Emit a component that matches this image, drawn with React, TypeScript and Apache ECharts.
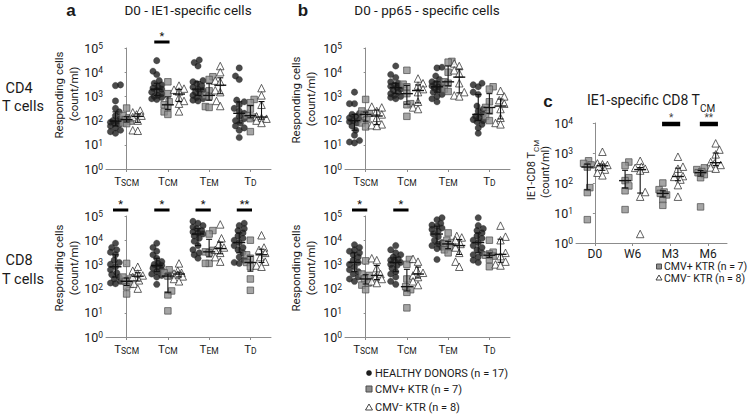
import React, { useEffect, useRef } from "react";
import * as echarts from "echarts";

const FONT = "Roboto, 'Noto Sans', sans-serif";

const cellTypes = ["TSCM", "TCM", "TEM", "TD"];
const timepoints = ["D0", "W6", "M3", "M6"];
const groupNames = ["HEALTHY DONORS (n = 17)", "CMV+ KTR (n = 7)", "CMV\u207B KTR (n = 8)"];

// ---- Panel a, CD4 (IE1) : [TSCM, TCM, TEM, TD]
const ie1Cd4Healthy = [
  [3000, 2800, 650, 320, 230, 160, 120, 100, 95, 85, 80, 70, 60, 50, 40, 35, 30],
  [30000, 11000, 8000, 4500, 3500, 3000, 2500, 2200, 2000, 1800, 1500, 1300, 1100, 1000, 900, 800, 750],
  [32000, 25000, 18000, 4500, 4000, 3400, 2800, 2400, 2000, 1800, 1500, 1300, 1100, 900, 800, 700, 650],
  [15000, 7000, 5000, 700, 600, 450, 320, 250, 200, 150, 120, 100, 80, 60, 50, 40, 20],
];
const ie1Cd4Pos = [
  [330, 160, 130, 110, 95, 80, 75],
  [4000, 1300, 600, 450, 350, 230, 180],
  [6500, 5000, 1700, 1100, 1000, 380, 350],
  [750, 550, 300, 160, 140, 120, 35],
];
const ie1Cd4Neg = [
  [260, 220, 180, 160, 140, 100, 40, 38],
  [2800, 2100, 1900, 1600, 900, 650, 500, 240],
  [18000, 10000, 4500, 4000, 1800, 1500, 650, 400],
  [2200, 1100, 450, 150, 130, 120, 100, 80],
];

// ---- Panel a, CD8 (IE1)
const ie1Cd8Healthy = [
  [7500, 5000, 4000, 3200, 2500, 1500, 1200, 1000, 800, 600, 450, 380, 300, 250, 200, 170, 160],
  [7500, 5000, 3500, 2500, 1800, 1300, 1100, 1000, 900, 800, 700, 600, 500, 400, 350, 300, 150],
  [60000, 50000, 40000, 35000, 30000, 25000, 22000, 20000, 18000, 15000, 12000, 9000, 6000, 4000, 3000, 2500, 1800],
  [50000, 40000, 30000, 25000, 20000, 15000, 12000, 10000, 8000, 6000, 5000, 4000, 3000, 2000, 1500, 1200, 1100],
];
const ie1Cd8Pos = [
  [1100, 300, 250, 200, 150, 120, 60],
  [600, 450, 350, 330, 80, 55, 12],
  [25000, 18000, 3800, 3300, 3000, 1100, 1100],
  [10000, 2500, 1800, 1200, 800, 250, 85],
];
const ie1Cd8Neg = [
  [800, 550, 420, 350, 300, 220, 160, 100],
  [1100, 550, 450, 420, 380, 320, 250, 200],
  [45000, 12000, 7000, 5000, 4000, 3000, 2000, 1300],
  [16000, 5000, 4000, 3000, 2000, 1300, 900, 800],
];

// ---- Panel b, CD4 (pp65)
const pp65Cd4Healthy = [
  [1500, 500, 500, 200, 180, 150, 130, 110, 100, 90, 80, 60, 40, 25, 15, 13, 12],
  [18000, 8000, 6000, 4000, 3500, 3000, 2800, 2600, 2300, 2000, 1800, 1500, 1300, 1100, 1000, 900, 800],
  [16000, 15000, 7000, 5000, 4000, 3500, 3000, 2700, 2500, 2200, 2000, 1800, 1500, 1200, 1000, 800, 600],
  [3500, 3000, 2500, 1500, 1200, 400, 300, 250, 180, 150, 130, 110, 100, 90, 70, 50, 30],
];
const pp65Cd4Pos = [
  [750, 250, 200, 180, 110, 80, 55],
  [12000, 3200, 2500, 1300, 500, 450, 150],
  [28000, 26000, 10000, 4000, 3500, 2000, 1600],
  [2500, 2000, 600, 350, 250, 150, 100],
];
const pp65Cd4Neg = [
  [380, 350, 250, 180, 130, 70, 65, 60],
  [5500, 3500, 2800, 2000, 1500, 600, 350, 300],
  [23000, 18000, 12000, 9000, 3500, 1500, 1100, 1000],
  [1700, 1000, 700, 500, 300, 130, 80, 70],
];

// ---- Panel b, CD8 (pp65)
const pp65Cd8Healthy = [
  [6500, 5000, 4000, 3500, 3000, 2500, 2000, 1500, 1200, 1000, 800, 600, 500, 400, 300, 250, 200],
  [6000, 4000, 3000, 2500, 2000, 1700, 1500, 1400, 1200, 1000, 900, 700, 500, 400, 300, 200, 150],
  [85000, 70000, 50000, 42000, 38000, 32000, 28000, 24000, 18000, 14000, 10000, 8000, 7000, 6000, 5000, 4500, 1600],
  [85000, 40000, 30000, 25000, 20000, 15000, 12000, 10000, 8000, 6000, 5000, 4000, 3000, 2500, 2000, 1500, 1200],
];
const pp65Cd8Pos = [
  [1400, 400, 350, 250, 170, 140, 90],
  [1600, 1000, 250, 120, 90, 70, 16],
  [20000, 10000, 8000, 7000, 5000, 4000, 3000],
  [10000, 3200, 2700, 2400, 2200, 1600, 800],
];
const pp65Cd8Neg = [
  [1800, 1500, 700, 400, 300, 250, 200, 170],
  [1700, 1300, 600, 450, 350, 300, 200, 140],
  [15000, 13000, 10000, 7000, 5000, 3000, 1300, 800],
  [40000, 14000, 10000, 3000, 2200, 1300, 1000, 900],
];

// ---- Panel c, IE1-specific CD8 TCM over time : [D0, W6, M3, M6]
const tcmPos = [
  [550, 450, 400, 340, 70, 48, 6],
  [500, 380, 150, 120, 80, 55, 13],
  [100, 60, 50, 45, 40, 28, 18],
  [320, 280, 240, 220, 190, 150, 16],
];
const tcmNeg = [
  [1100, 450, 420, 400, 350, 280, 220, 180],
  [550, 350, 320, 300, 260, 50, 35, 2],
  [750, 350, 300, 170, 160, 130, 85, 35],
  [2100, 1300, 900, 500, 450, 400, 330, 300],
];

type Sig = { cat: number; mark: string };
const sigIe1Cd4: Sig[] = [{ cat: 1, mark: "*" }];
const sigIe1Cd8: Sig[] = [
  { cat: 0, mark: "*" },
  { cat: 1, mark: "*" },
  { cat: 2, mark: "*" },
  { cat: 3, mark: "**" },
];
const sigPp65Cd4: Sig[] = [];
const sigPp65Cd8: Sig[] = [
  { cat: 0, mark: "*" },
  { cat: 1, mark: "*" },
];
const sigTcm: Sig[] = [
  { cat: 2, mark: "*" },
  { cat: 3, mark: "**" },
];

function quartiles(vals: number[]): [number, number, number] {
  const s = [...vals].sort((a, b) => a - b);
  const q = (p: number) => {
    const pos = (s.length - 1) * p;
    const lo = Math.floor(pos);
    const hi = Math.ceil(pos);
    return s[lo] + (s[hi] - s[lo]) * (pos - lo);
  };
  return [q(0.25), q(0.5), q(0.75)];
}

// deterministic beeswarm offsets (in x data units)
function swarm(vals: number[], pxPerUnit: number, pxPerDecade: number, maxPx: number, minDist: number): number[] {
  const idx = vals.map((_, i) => i).sort((a, b) => vals[a] - vals[b]);
  const placed: [number, number][] = [];
  const off = new Array(vals.length).fill(0);
  idx.forEach((i, k) => {
    const yp = Math.log10(vals[i]) * pxPerDecade;
    const sign = k % 2 === 0 ? 1 : -1;
    const cands: number[] = [0];
    for (let d = 1.25; d <= maxPx + 1e-9; d += 1.25) cands.push(sign * d, -sign * d);
    let best = 0;
    let bestD = -1;
    for (const c of cands) {
      let md = Infinity;
      for (const [px, py] of placed) {
        const dd = Math.hypot(px - c, py - yp);
        if (dd < md) md = dd;
      }
      if (md >= minDist) {
        best = c;
        break;
      }
      if (md > bestD) {
        bestD = md;
        best = c;
      }
    }
    placed.push([best, yp]);
    off[i] = best / pxPerUnit;
  });
  return off;
}

const markerStyles = [
  { symbol: "circle", size: 6.5, itemStyle: { color: "#1e1e1e", borderColor: "#1e1e1e", borderWidth: 0.3 }, maxPx: 5, minDist: 5 },
  { symbol: "rect", size: 6.5, itemStyle: { color: "#8e8e8e", borderColor: "#4d4d4d", borderWidth: 0.9 }, maxPx: 4, minDist: 5.5 },
  { symbol: "triangle", size: 7.5, itemStyle: { color: "#ffffff", borderColor: "#262626", borderWidth: 0.9 }, maxPx: 5, minDist: 6 },
];

type Panel = {
  left: number;
  top: number;
  width: number;
  height: number;
  cats: string[];
  ymax: number;
  data: (number[][] | null)[];
  offs: number[];
  sig: Sig[];
  isC: boolean;
};

const panels: Panel[] = [
  { left: 106, top: 48, width: 165, height: 121, cats: cellTypes, ymax: 1e5, data: [ie1Cd4Healthy, ie1Cd4Pos, ie1Cd4Neg], offs: [-0.27, 0, 0.27], sig: sigIe1Cd4, isC: false },
  { left: 106, top: 216, width: 165, height: 121, cats: cellTypes, ymax: 1e5, data: [ie1Cd8Healthy, ie1Cd8Pos, ie1Cd8Neg], offs: [-0.27, 0, 0.27], sig: sigIe1Cd8, isC: false },
  { left: 345, top: 48, width: 165, height: 121, cats: cellTypes, ymax: 1e5, data: [pp65Cd4Healthy, pp65Cd4Pos, pp65Cd4Neg], offs: [-0.27, 0, 0.27], sig: sigPp65Cd4, isC: false },
  { left: 345, top: 216, width: 165, height: 121, cats: cellTypes, ymax: 1e5, data: [pp65Cd8Healthy, pp65Cd8Pos, pp65Cd8Neg], offs: [-0.27, 0, 0.27], sig: sigPp65Cd8, isC: false },
  { left: 576, top: 123, width: 151, height: 120, cats: timepoints, ymax: 1e4, data: [null, tcmPos, tcmNeg], offs: [0, -0.2, 0.2], sig: sigTcm, isC: true },
];

const AXIS_COLOR = "#8c8c8c";
const TEXT_COLOR = "#1a1a1a";

function buildOption() {
  const grid: any[] = [];
  const xAxis: any[] = [];
  const yAxis: any[] = [];
  const series: any[] = [];

  panels.forEach((p, pi) => {
    grid.push({ left: p.left, top: p.top, width: p.width, height: p.height, containLabel: false });
    xAxis.push({
      type: "category",
      gridIndex: pi,
      data: p.cats,
      boundaryGap: true,
      position: "bottom",
      axisLine: { show: true, lineStyle: { color: AXIS_COLOR, width: 1 } },
      axisTick: { show: true, alignWithLabel: true, length: 3, lineStyle: { color: AXIS_COLOR } },
      splitLine: { show: false },
      axisLabel: p.isC
        ? { interval: 0, margin: 5, fontSize: 12, lineHeight: 12, fontFamily: FONT, color: TEXT_COLOR }
        : {
            interval: 0,
            margin: 6,
            color: TEXT_COLOR,
            formatter: (v: string) => `{t|T}{s|${v.slice(1)}}`,
            rich: {
              t: { fontSize: 11.5, fontFamily: FONT, color: TEXT_COLOR, lineHeight: 12, verticalAlign: "bottom" },
              s: { fontSize: 8.5, fontFamily: FONT, color: TEXT_COLOR, lineHeight: 9, verticalAlign: "bottom" },
            },
          },
    });
    xAxis.push({ type: "value", gridIndex: pi, min: -0.5, max: 3.5, show: false, position: "bottom" });
    yAxis.push({
      type: "log",
      logBase: 10,
      gridIndex: pi,
      min: 1,
      max: p.ymax,
      axisLine: { show: true, lineStyle: { color: AXIS_COLOR, width: 1 } },
      axisTick: { show: true, length: 2, lineStyle: { color: AXIS_COLOR } },
      splitLine: { show: false },
      minorTick: { show: false },
      axisLabel: {
        margin: 3,
        formatter: (v: number) => `{b|10}{s|${Math.round(Math.log10(v))}}`,
        rich: {
          b: { fontSize: 12.5, fontFamily: FONT, color: TEXT_COLOR, lineHeight: 13, verticalAlign: "bottom" },
          s: { fontSize: 8.5, fontFamily: FONT, color: TEXT_COLOR, lineHeight: 9, padding: [0, 0, 7, 0], verticalAlign: "top" },
        },
      },
    });

    const pxPerUnit = p.width / 4;
    const pxPerDecade = p.height / Math.log10(p.ymax);

    p.data.forEach((groupData, gi) => {
      if (!groupData) return;
      const ms = markerStyles[gi];
      const pts: number[][] = [];
      const bars: number[][] = [];
      groupData.forEach((vals, c) => {
        const offs = swarm(vals, pxPerUnit, pxPerDecade, ms.maxPx, ms.minDist);
        vals.forEach((v, i) => pts.push([c + p.offs[gi] + offs[i], v]));
        const [q1, md, q3] = quartiles(vals);
        bars.push([c + p.offs[gi], q1, md, q3]);
      });
      series.push({
        type: "scatter",
        name: groupNames[gi],
        xAxisIndex: pi * 2 + 1,
        yAxisIndex: pi,
        symbol: ms.symbol,
        symbolSize: ms.size,
        itemStyle: ms.itemStyle,
        data: pts,
        z: 2,
        silent: true,
      });
      series.push({
        type: "custom",
        name: groupNames[gi] + " median/IQR",
        xAxisIndex: pi * 2 + 1,
        yAxisIndex: pi,
        z: 5,
        silent: true,
        data: bars,
        renderItem: (_params: any, api: any) => {
          const x = api.value(0);
          const a = api.coord([x, api.value(1)]);
          const m = api.coord([x, api.value(2)]);
          const b = api.coord([x, api.value(3)]);
          const st = { stroke: "#111", lineWidth: 1.1 };
          const cap = 3;
          const mh = 6;
          return {
            type: "group",
            children: [
              { type: "line", shape: { x1: a[0], y1: a[1], x2: b[0], y2: b[1] }, style: st },
              { type: "line", shape: { x1: a[0] - cap, y1: a[1], x2: a[0] + cap, y2: a[1] }, style: st },
              { type: "line", shape: { x1: b[0] - cap, y1: b[1], x2: b[0] + cap, y2: b[1] }, style: st },
              { type: "line", shape: { x1: m[0] - mh, y1: m[1], x2: m[0] + mh, y2: m[1] }, style: { stroke: "#111", lineWidth: 1.4 } },
            ],
          };
        },
      });
    });

    if (p.sig.length) {
      series.push({
        type: "custom",
        name: "significance",
        xAxisIndex: pi * 2 + 1,
        yAxisIndex: pi,
        z: 6,
        silent: true,
        clip: false,
        data: p.sig.map((s) => [s.cat, p.ymax]),
        renderItem: (params: any, api: any) => {
          const item = p.sig[params.dataIndex];
          const a = api.coord([item.cat + (p.isC ? -0.22 : -0.33), p.ymax]);
          const b = api.coord([item.cat + (p.isC ? 0.26 : 0.04), p.ymax]);
          const th = p.isC ? 4.5 : 3;
          const y = a[1] + (p.isC ? 1 : -6);
          return {
            type: "group",
            children: [
              { type: "rect", shape: { x: a[0], y: y - th / 2, width: b[0] - a[0], height: th }, style: { fill: "#000" } },
              {
                type: "text",
                x: (a[0] + b[0]) / 2,
                y: y - th / 2 + 1,
                style: {
                  text: item.mark,
                  fill: p.isC ? "#444" : "#111",
                  fontSize: p.isC ? 10 : 11,
                  fontFamily: FONT,
                  align: "center",
                  verticalAlign: "bottom",
                },
              },
            ],
          };
        },
      });
    }
  });

  const txt = (x: number, y: number, text: string, fontSize: number, extra: any = {}, elExtra: any = {}) => ({
    type: "text",
    x,
    y,
    silent: true,
    ...elExtra,
    style: { text, fontSize, fontFamily: FONT, fill: TEXT_COLOR, align: "center", verticalAlign: "middle", ...extra },
  });
  const rot = { rotation: Math.PI / 2 };
  const bold = { fontWeight: "bold", fontFamily: "'Liberation Sans', Arial, sans-serif" };

  const graphic: any[] = [
    txt(71, 10, "a", 17, bold),
    txt(188, 10, "D0 - IE1-specific cells", 13.5),
    txt(303, 10, "b", 17, bold),
    txt(427, 10, "D0 - pp65 - specific cells", 13.5),
    txt(548, 101, "c", 17, bold),
    txt(651, 101, "{a|IE1-specific CD8 T}{b|CM}", 14, {
      rich: {
        a: { fontSize: 14, fontFamily: FONT, fill: TEXT_COLOR, lineHeight: 16, verticalAlign: "top" },
        b: { fontSize: 10, fontFamily: FONT, fill: TEXT_COLOR, lineHeight: 10, padding: [10, 0, 0, 0], verticalAlign: "top" },
      },
    }),
    txt(19, 88, "CD4", 14.5),
    txt(23, 106, "T cells", 14.5),
    txt(19, 260, "CD8", 14.5),
    txt(23, 279, "T cells", 14.5),
    txt(59, 95, "Responding cells", 11.5, {}, rot),
    txt(74, 94, "(count/ml)", 11.5, {}, rot),
    txt(59, 268, "Responding cells", 11.5, {}, rot),
    txt(74, 268, "(count/ml)", 11.5, {}, rot),
    txt(296, 100, "Responding cells", 11.5, {}, rot),
    txt(311, 99, "(count/ml)", 11.5, {}, rot),
    txt(296, 268, "Responding cells", 11.5, {}, rot),
    txt(311, 268, "(count/ml)", 11.5, {}, rot),
    txt(532, 170, "{a|IE1-CD8 T}{b|CM}", 11, {
      rich: {
        a: { fontSize: 11, fontFamily: FONT, fill: TEXT_COLOR, lineHeight: 13, verticalAlign: "top" },
        b: { fontSize: 8, fontFamily: FONT, fill: TEXT_COLOR, lineHeight: 8, padding: [7, 0, 0, 0], verticalAlign: "top" },
      },
    }, rot),
    txt(545, 172, "(count/ml)", 11, {}, rot),
    // legend (panel b)
    { type: "circle", silent: true, shape: { cx: 369, cy: 373, r: 2.8 }, style: { fill: "#1e1e1e" } },
    txt(375, 373, groupNames[0], 11, { align: "left" }),
    { type: "rect", silent: true, shape: { x: 366, y: 386, width: 6, height: 6 }, style: { fill: "#8e8e8e", stroke: "#4d4d4d", lineWidth: 1 } },
    txt(375, 389, groupNames[1], 11, { align: "left" }),
    { type: "polygon", silent: true, shape: { points: [[365.5, 410], [372.5, 410], [369, 404]] }, style: { fill: "#fff", stroke: "#333", lineWidth: 0.9 } },
    txt(375, 407, groupNames[2], 11, { align: "left" }),
    // legend (panel c)
    { type: "rect", silent: true, shape: { x: 656.5, y: 264, width: 5, height: 5 }, style: { fill: "#8e8e8e", stroke: "#4d4d4d", lineWidth: 1 } },
    txt(664, 266.5, groupNames[1], 10.5, { align: "left", lineHeight: 11 }),
    { type: "polygon", silent: true, shape: { points: [[656, 280], [662, 280], [659, 275]] }, style: { fill: "#fff", stroke: "#333", lineWidth: 0.9 } },
    txt(664, 278, groupNames[2], 10.5, { align: "left", lineHeight: 11 }),
  ];

  return {
    animation: false,
    backgroundColor: "#ffffff",
    textStyle: { fontFamily: FONT },
    grid,
    xAxis,
    yAxis,
    series,
    graphic,
  };
}

export default function App() {
  const ref = useRef<HTMLDivElement>(null);
  useEffect(() => {
    if (!ref.current) return;
    const chart = echarts.init(ref.current, null, { renderer: "svg" });
    chart.setOption(buildOption() as any);
    return () => chart.dispose();
  }, []);
  return <div ref={ref} style={{ position: "absolute", left: 0, top: 0, width: 756, height: 415, background: "#fff" }} />;
}
